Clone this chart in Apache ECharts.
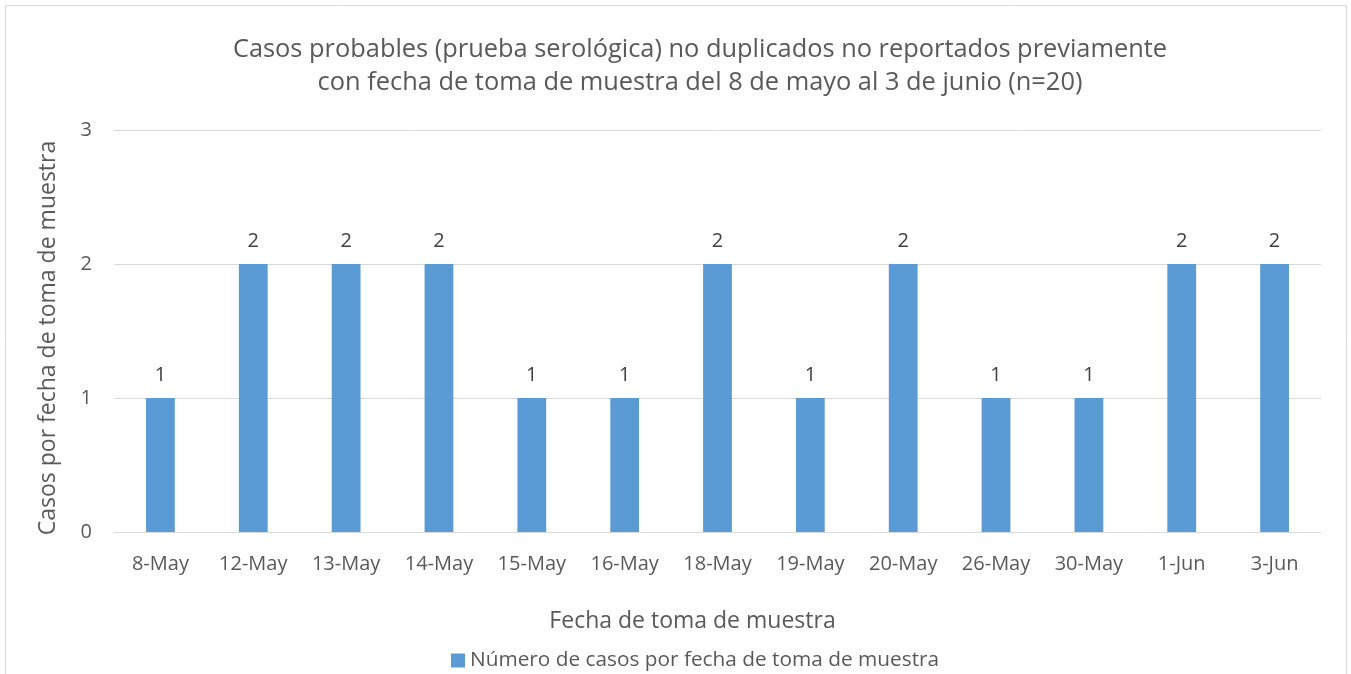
<!DOCTYPE html>
<html><head><meta charset="utf-8">
<script src="https://cdn.jsdelivr.net/npm/echarts@6/dist/echarts.min.js"></script>
<style>html,body{margin:0;padding:0;background:#fff}#c{width:1351px;height:674px}</style>
</head><body><div id="c"></div>
<script>
const categories = ['8-May','12-May','13-May','14-May','15-May','16-May','18-May','19-May','20-May','26-May','30-May','1-Jun','3-Jun'];
const values = [1,2,2,2,1,1,2,1,2,1,1,2,2];
const yTicks = [0,1,2,3];
const seriesName = 'Número de casos por fecha de toma de muestra';
const txt = '#595959';
const font = 'Open Sans';
const chart = echarts.init(document.getElementById('c'));
chart.setOption({
  animation:false,
  textStyle:{fontFamily:font,color:txt},
  graphic:[{type:'rect',shape:{x:5.5,y:5.5,width:1341,height:700},style:{fill:'none',stroke:'#D9D9D9',lineWidth:1},silent:true}],
  title:{text:'Casos probables (prueba serológica) no duplicados no reportados previamente\ncon fecha de toma de muestra del 8 de mayo al 3 de junio (n=20)',
    left:695,textAlign:'center',top:28,textStyle:{fontFamily:font,fontSize:25.4,fontWeight:'normal',color:txt,lineHeight:33}},
  legend:{top:645,left:446,itemWidth:14,itemHeight:14,itemGap:5,icon:'rect',
    textStyle:{fontFamily:font,fontSize:20.8,color:txt},data:[seriesName]},
  grid:{left:114,right:30,top:130,bottom:142},
  xAxis:{type:'category',data:categories,name:'Fecha de toma de muestra',nameLocation:'middle',nameGap:78,
    nameTextStyle:{fontFamily:font,fontSize:23,color:txt,padding:[0,50,0,0]},
    axisLine:{lineStyle:{color:'#D9D9D9'}},axisTick:{show:false},
    axisLabel:{fontFamily:font,fontSize:20,color:txt,margin:22}},
  yAxis:{type:'value',min:yTicks[0],max:yTicks[yTicks.length-1],interval:1,
    name:'Casos por fecha de toma de muestra',nameLocation:'middle',nameGap:54,
    nameTextStyle:{fontFamily:font,fontSize:23,color:txt,padding:[0,14,0,0]},
    axisLine:{show:false},axisTick:{show:false},
    axisLabel:{fontFamily:font,fontSize:20,color:txt,margin:22},
    splitLine:{lineStyle:{color:'#D9D9D9',width:1}}},
  series:[{name:seriesName,type:'bar',data:values,barWidth:'31%',
    itemStyle:{color:'#5B9BD5'},
    label:{show:true,position:'top',distance:13,fontFamily:font,fontSize:20,color:'#404040'}}]
});
</script></body></html>
